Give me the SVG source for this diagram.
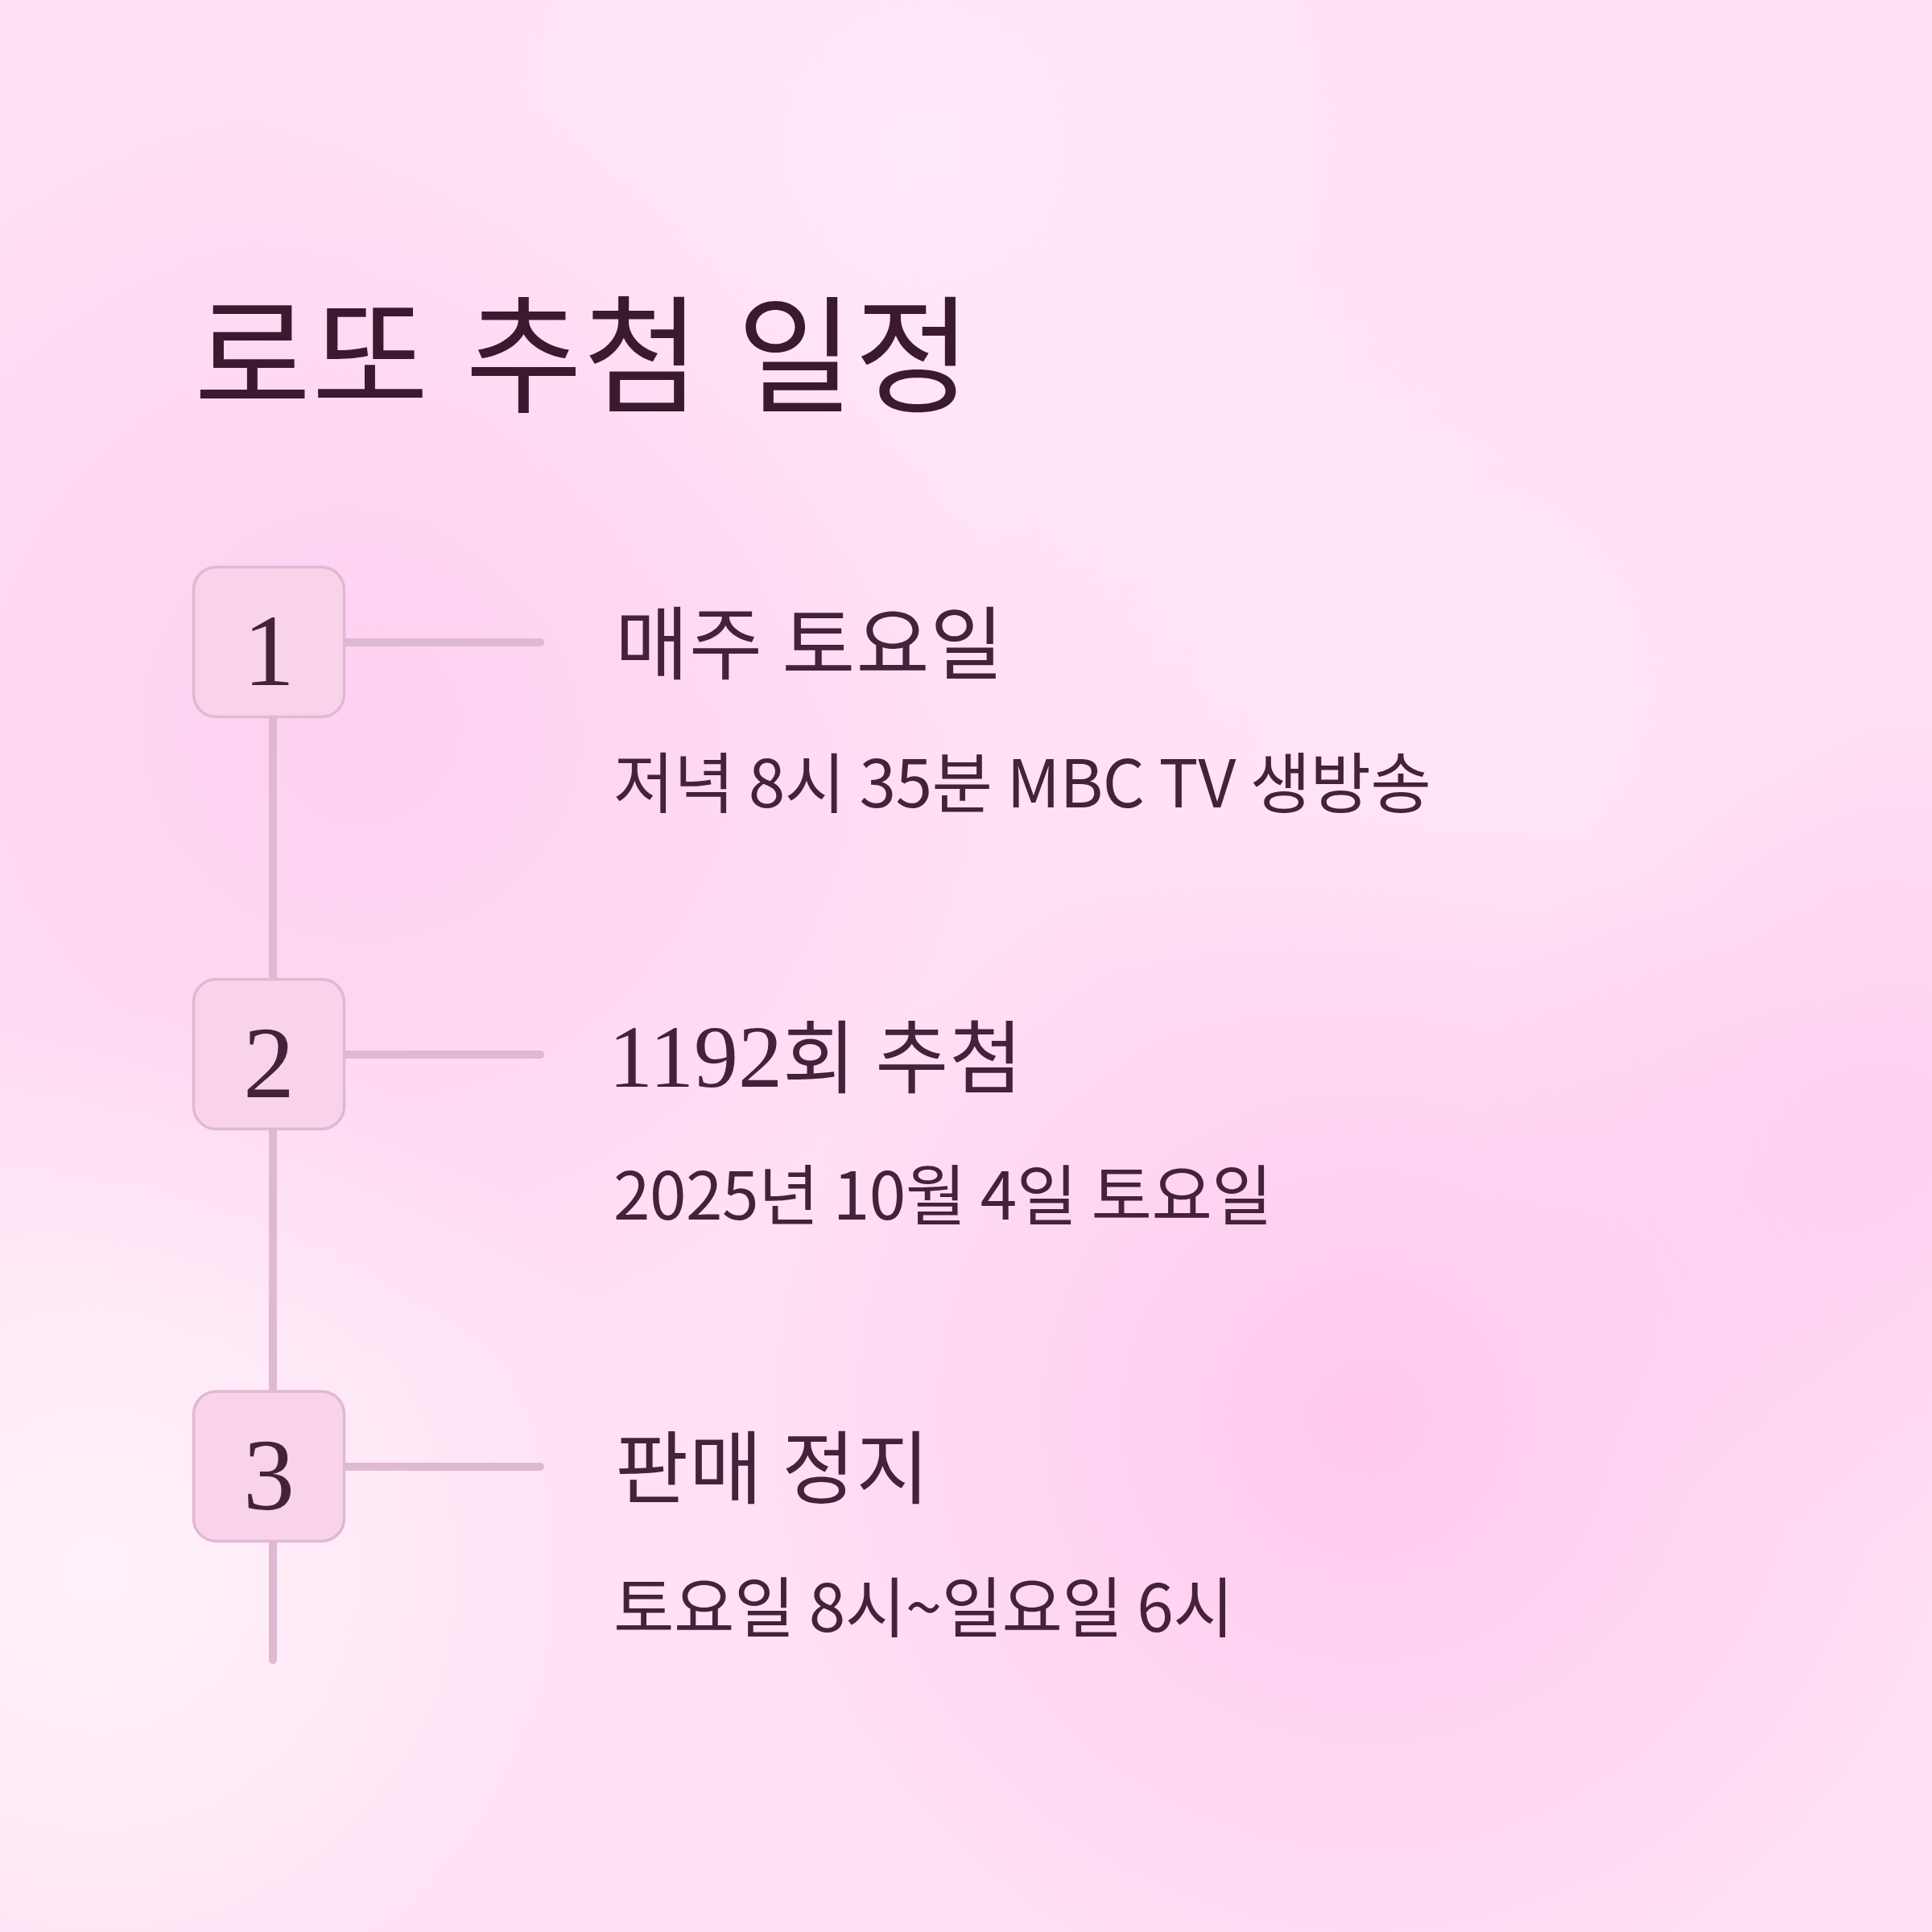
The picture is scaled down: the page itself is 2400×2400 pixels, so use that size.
<svg xmlns="http://www.w3.org/2000/svg" width="2400" height="2400" viewBox="0 0 2400 2400">
<defs>
<radialGradient id="g1" cx="450" cy="900" r="800" gradientUnits="userSpaceOnUse">
<stop offset="0" stop-color="#ffcbf0" stop-opacity="0.8"/>
<stop offset="1" stop-color="#ffcbf0" stop-opacity="0"/>
</radialGradient>
<radialGradient id="g2" cx="1700" cy="1760" r="760" gradientUnits="userSpaceOnUse">
<stop offset="0" stop-color="#ffc4ee" stop-opacity="0.85"/>
<stop offset="1" stop-color="#ffc4ee" stop-opacity="0"/>
</radialGradient>
<radialGradient id="g3" cx="1150" cy="180" r="850" gradientUnits="userSpaceOnUse">
<stop offset="0" stop-color="#ffebf8" stop-opacity="0.75"/>
<stop offset="1" stop-color="#ffebf8" stop-opacity="0"/>
</radialGradient>
<radialGradient id="g4" cx="120" cy="1950" r="700" gradientUnits="userSpaceOnUse">
<stop offset="0" stop-color="#fff2f9" stop-opacity="1"/>
<stop offset="1" stop-color="#fff2f9" stop-opacity="0"/>
</radialGradient>
<radialGradient id="g5" cx="2350" cy="1400" r="520" gradientUnits="userSpaceOnUse">
<stop offset="0" stop-color="#ffc8ef" stop-opacity="0.7"/>
<stop offset="1" stop-color="#ffc8ef" stop-opacity="0"/>
</radialGradient>
<radialGradient id="g6" cx="1800" cy="850" r="550" gradientUnits="userSpaceOnUse">
<stop offset="0" stop-color="#ffe9f7" stop-opacity="0.7"/>
<stop offset="1" stop-color="#ffe9f7" stop-opacity="0"/>
</radialGradient>
<style>
.title{font-family:"Noto Sans CJK KR","Noto Sans",sans-serif;font-size:158px;font-weight:400;fill:#3b1a30;letter-spacing:1px;word-spacing:8px}
.head{font-family:"Liberation Serif","Noto Sans CJK KR",serif;font-size:99px;font-weight:400;fill:#44223a}
.hang{font-family:"Noto Sans CJK KR",sans-serif;letter-spacing:1px}
.sub{font-family:"Noto Sans CJK KR","Noto Sans",sans-serif;font-size:82px;font-weight:400;fill:#44223a;letter-spacing:-0.5px}
.box{fill:#f8d3ea;stroke:#e0b8d2;stroke-width:3.5}
.num{font-family:"Liberation Serif",serif;font-size:128px;fill:#44223a;text-anchor:middle}
.ln{stroke:#dfb9d1;stroke-width:10;stroke-linecap:round;fill:none}
</style>
</defs>
<rect width="2400" height="2400" fill="#ffe0f4"/>
<rect width="2400" height="2400" fill="url(#g3)"/>
<rect width="2400" height="2400" fill="url(#g6)"/>
<rect width="2400" height="2400" fill="url(#g1)"/>
<rect width="2400" height="2400" fill="url(#g2)"/>
<rect width="2400" height="2400" fill="url(#g5)"/>
<rect width="2400" height="2400" fill="url(#g4)"/>

<text class="title" x="241" y="500">로또 추첨 일정</text>

<g id="connectors">
<line class="ln" x1="339" y1="880" x2="339" y2="2062"/>
<line class="ln" x1="430" y1="798" x2="671" y2="798"/>
<line class="ln" x1="430" y1="1310" x2="671" y2="1310"/>
<line class="ln" x1="430" y1="1822" x2="671" y2="1822"/>
</g>

<g id="step1">
<rect class="box" x="240.5" y="704.5" width="187" height="186" rx="28"/>
<text class="num" x="334" y="851">1</text>
<text class="head" x="764" y="836"><tspan class="hang">매주 토요일</tspan></text>
<text class="sub" x="762" y="1003">저녁 8시 35분 MBC TV 생방송</text>
</g>

<g id="step2">
<rect class="box" x="240.5" y="1216.5" width="187" height="186" rx="28"/>
<text class="num" x="334" y="1363">2</text>
<text class="head" x="756" y="1350"><tspan font-size="110">1192</tspan><tspan class="hang">회 추첨</tspan></text>
<text class="sub" x="762" y="1515">2025년 10월 4일 토요일</text>
</g>

<g id="step3">
<rect class="box" x="240.5" y="1728.5" width="187" height="186" rx="28"/>
<text class="num" x="334" y="1875">3</text>
<text class="head" x="764" y="1860"><tspan class="hang">판매 정지</tspan></text>
<text class="sub" x="762" y="2027">토요일 8시~일요일 6시</text>
</g>
</svg>
